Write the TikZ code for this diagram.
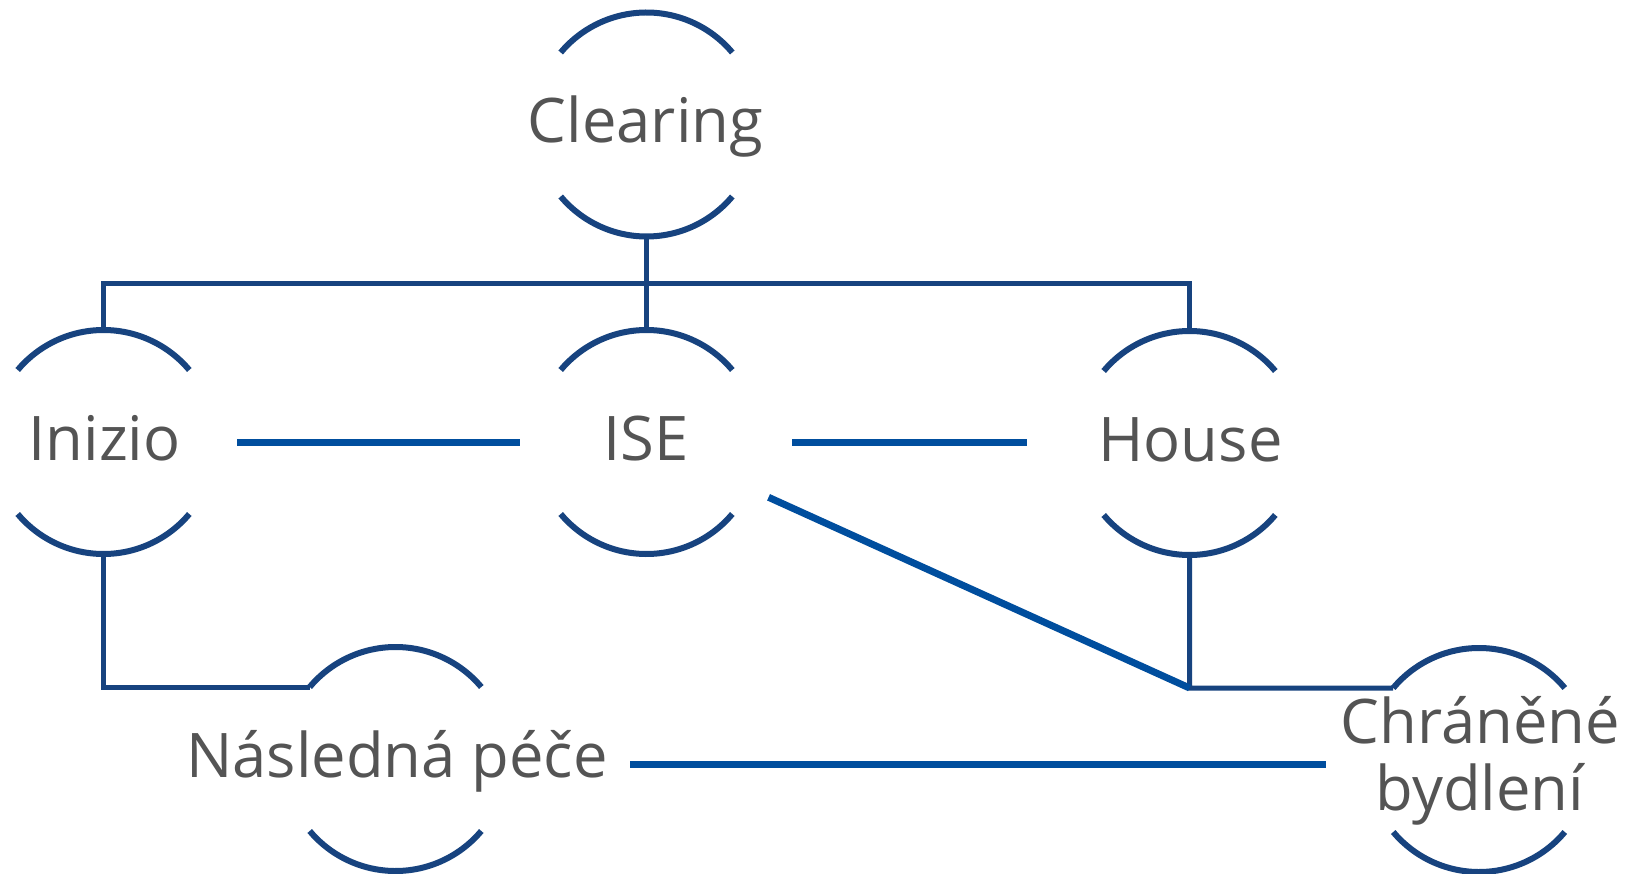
\documentclass[tikz,border=0pt]{standalone}
\usepackage{fontspec}
\setmainfont{Open Sans}
\definecolor{arcblue}{HTML}{17437F}
\definecolor{lineblue}{HTML}{004E9E}
\definecolor{txtgray}{HTML}{545454}
\newcommand\ringarcs[1]{%
  \draw[arcline] (#1.40) arc[start angle=40,end angle=140,radius=112pt];
  \draw[arcline] (#1.-40) arc[start angle=-40,end angle=-140,radius=112pt];}
\begin{document}
\begin{tikzpicture}[x=1pt,y=1pt,
  ring/.style={circle,minimum size=224pt,inner sep=0pt,outer sep=0pt},
  lbl/.style={anchor=base,text=txtgray,font=\fontsize{61.5}{67}\selectfont,inner sep=0pt},
  arcline/.style={draw=arcblue,line width=6pt},
  tree/.style={draw=arcblue,line width=5pt},
  conn/.style={draw=lineblue,line width=7pt}]
\useasboundingbox (0,0) rectangle (1635,-874);
\fill[white] (0,0) rectangle (1635,-874);
% rings
\node[ring] (clr) at (646.5,-124.5) {};
\node[ring] (ini) at (103.5,-442) {};
\node[ring] (ise) at (646.5,-442) {};
\node[ring] (hou) at (1189.5,-443) {};
\node[ring] (nas) at (395.5,-759) {};
\node[ring] (chr) at (1479,-760) {};
\ringarcs{clr}\ringarcs{ini}\ringarcs{ise}\ringarcs{hou}\ringarcs{nas}\ringarcs{chr}
% labels
\node[lbl] (tclr) at (645.5,-143) {Clearing};
\node[lbl] (tini) at (104.5,-460) {Inizio};
\node[lbl] (tise) at (646,-460) {ISE};
\node[lbl] (thou) at (1190.5,-461) {House};
\node[lbl] (tnas) at (397,-777) {Následná péče};
\node[lbl] (tchrA) at (1480.5,-743) {Chráněné};
\node[lbl] (tchrB) at (1480,-810) {bydlení};
% tree
\coordinate (bus) at (646.5,-284);
\coordinate (junc) at (1189.5,-688);
\draw[tree] (clr.south) -- (ise.north);
\draw[tree,line join=miter] (ini.north) -- (ini.north |- bus) -- (hou.north |- bus) -- (hou.north);
\draw[tree,line join=miter] (ini.south) -- (ini.south |- nas.140) -- (nas.140);
\draw[tree,line join=miter] (hou.south) -- (junc) -- (chr.140);
% connectors
\draw[conn] ([xshift=21.5pt]ini.east) -- ([xshift=-14.5pt]ise.west);
\draw[conn] ([xshift=33.5pt]ise.east) -- ([xshift=-51pt]hou.west |- ise.east);
\draw[conn,shorten <=134pt] (ise.center) -- (junc);
\draw[conn] ([shift={(122.5pt,-5pt)}]nas.east) -- ([shift={(-41pt,-4pt)}]chr.west);
\end{tikzpicture}
\end{document}
